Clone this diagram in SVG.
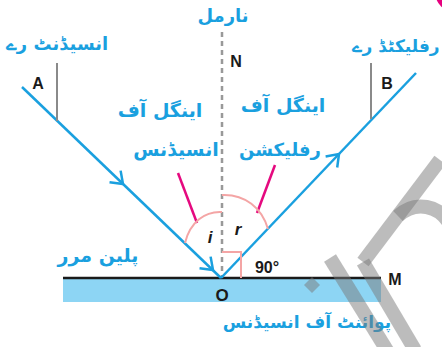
<svg xmlns="http://www.w3.org/2000/svg" width="442" height="347" viewBox="0 0 442 347">
<style>
.ur{font-family:"DejaVu Sans","Noto Sans",sans-serif;font-weight:bold;fill:#1aa0df;text-anchor:middle}
.lbl{font-family:"Liberation Sans",Arial,sans-serif;font-weight:bold;fill:#1a1a1a;text-anchor:middle}
.ang{font-family:"Liberation Sans",Arial,sans-serif;font-style:italic;font-weight:bold;fill:#1a1a1a;font-size:17px;text-anchor:middle}
.ray{stroke:#1aa0df;stroke-width:2.5;fill:none}
.mag{stroke:#e5097f;stroke-width:2.5;fill:none}
.pink{stroke:#f4a5a5;stroke-width:2;fill:none}
.gv{stroke:#8a8a8a;stroke-width:2}
.wm{stroke:#7a7a7a;stroke-opacity:0.5;stroke-width:14;fill:none}
</style>
<defs>
<path id="chev" d="M-11,-8 L0,0 L-11,8" stroke="#1aa0df" stroke-width="2.5" fill="none"/>
</defs>
<rect width="442" height="347" fill="#ffffff"/>
<circle cx="455" cy="-8" r="20" fill="#e6007e"/>

<g id="mirror">
<rect x="63" y="279" width="318" height="23" fill="#8dd5f4"/>
<line x1="63" y1="278" x2="381" y2="278" stroke="#1a1a1a" stroke-width="2.5"/>
</g>

<g id="connectors">
<line x1="222" y1="32" x2="222" y2="278" stroke="#999" stroke-width="2.5" stroke-dasharray="5 4"/>
<line class="ray" x1="22" y1="87" x2="221" y2="278"/>
<line class="ray" x1="221" y1="278" x2="416" y2="73"/>
<use href="#chev" transform="translate(123,184) rotate(43.8)"/>
<use href="#chev" transform="translate(213,270) rotate(43.8)"/>
<use href="#chev" transform="translate(339,154) rotate(-46.4)"/>
<line class="gv" x1="57" y1="63" x2="57" y2="121"/>
<line class="gv" x1="371" y1="63" x2="371" y2="119"/>
<line class="mag" x1="178" y1="173" x2="197" y2="223"/>
<line class="mag" x1="275" y1="165" x2="257" y2="213"/>
<path class="pink" d="M222,212 C205,211 190,222 185,243"/>
<path class="pink" d="M222,195 C245,194 262,208 268,229"/>
<path class="pink" d="M222,252 H241 V278"/>
</g>

<g id="labels">
<text class="ur" x="223" y="22" font-size="18">نارمل</text>
<text class="ur" x="57" y="50" font-size="18">انسیڈنٹ رے</text>
<text class="ur" x="396" y="52" font-size="17">رفلیکٹڈ رے</text>
<text class="ur" x="160" y="117" font-size="19">اینگل آف</text>
<text class="ur" x="176" y="156" font-size="19">انسیڈنس</text>
<text class="ur" x="283" y="112" font-size="19">اینگل آف</text>
<text class="ur" x="280" y="156" font-size="18">رفلیکشن</text>
<text class="ur" x="98" y="262" font-size="19">پلین مرر</text>
<text class="ur" x="307" y="328" font-size="17">پوائنٹ آف انسیڈنس</text>
<text class="lbl" x="38" y="89" font-size="16">A</text>
<text class="lbl" x="387" y="89" font-size="16">B</text>
<text class="lbl" x="236" y="67" font-size="16">N</text>
<text class="lbl" x="222" y="301" font-size="17">O</text>
<text class="lbl" x="395" y="285" font-size="16">M</text>
<text class="lbl" x="267" y="273" font-size="16">90°</text>
<text class="ang" x="210" y="243">i</text>
<text class="ang" x="238" y="235">r</text>
</g>

<g id="watermark">
<polygon points="312,277 320,285 312,293 304,285" fill="#7a7a7a" fill-opacity="0.5"/>
<line class="wm" x1="330" y1="258" x2="388" y2="352"/>
<line class="wm" x1="363" y1="262" x2="440" y2="160"/>
<line class="wm" x1="363" y1="262" x2="415" y2="350"/>
<path class="wm" d="M398,216 C415,200 440,205 450,225"/>
</g>
</svg>
